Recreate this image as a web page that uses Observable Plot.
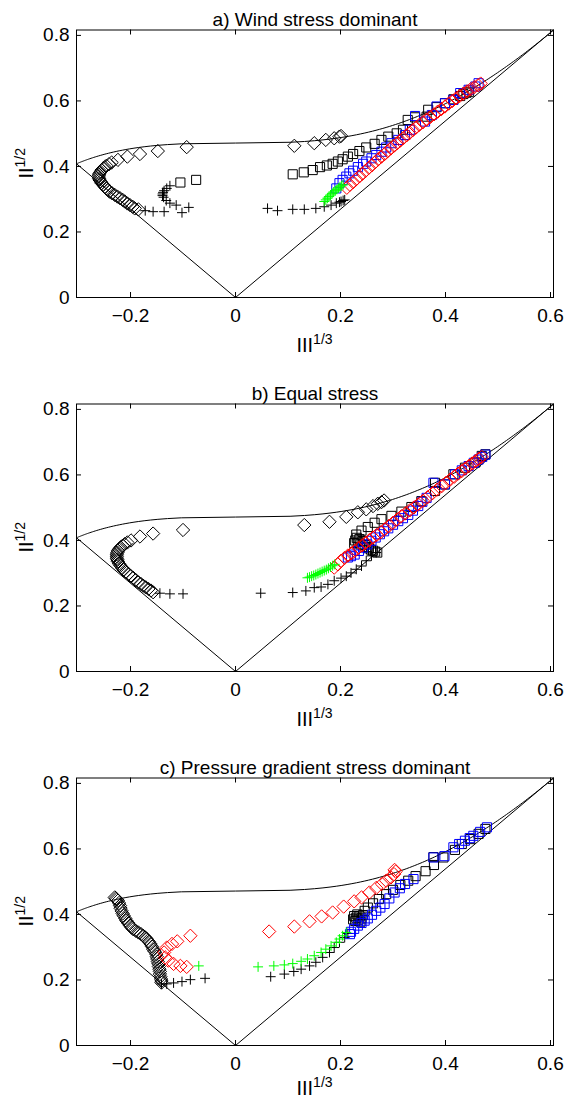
<!DOCTYPE html>
<html><head><meta charset="utf-8">
<script src="https://cdn.jsdelivr.net/npm/d3@7"></script>
<script src="https://cdn.jsdelivr.net/npm/@observablehq/plot@0.6"></script>
<style>
html,body{margin:0;padding:0;background:#fff;overflow:hidden;}
#chart{width:566px;}
#chart svg{display:block;}
</style></head><body><div id="chart"></div>
<script>
// ---- axis ticks ----
const xTicks = [-0.2, 0, 0.2, 0.4, 0.6];
const yTicks = [0, 0.2, 0.4, 0.6, 0.8];
const titles = ["a) Wind stress dominant", "b) Equal stress", "c) Pressure gradient stress dominant"];

// ---- Lumley triangle vertices (III^{1/3}, II^{1/2}) ----
const vertexLeft = [-0.3029, 0.4082];   // 2C axisymmetric
const vertexOrigin = [0, 0];             // isotropic
const vertexRight = [0.6057, 0.8165];   // 1C

// ---- Panel a: wind stress dominant ----
const aBlackDiamond = [[0.201,0.493],[0.198,0.491],[0.188,0.486],[0.172,0.481],[0.150,0.471],[0.112,0.463],
 [-0.093,0.459],[-0.148,0.447],[-0.182,0.438],[-0.206,0.430],[-0.224,0.420],[-0.236,0.412],[-0.241,0.407],[-0.246,0.402],[-0.249,0.398],[-0.252,0.394],[-0.255,0.389],[-0.257,0.384],[-0.259,0.379],[-0.260,0.374],[-0.261,0.369],[-0.260,0.364],[-0.259,0.359],[-0.257,0.354],[-0.255,0.349],[-0.252,0.344],[-0.249,0.338],[-0.246,0.333],[-0.243,0.328],[-0.240,0.323],[-0.235,0.318],[-0.230,0.313],[-0.225,0.308],[-0.220,0.303],[-0.215,0.298],[-0.211,0.293],[-0.206,0.287],[-0.201,0.282],[-0.196,0.277],[-0.192,0.272],[-0.185,0.269]];
const aBlackSquare = [[-0.105,0.351],[-0.075,0.359],
 [0.109,0.376],[0.130,0.382],[0.147,0.389],[0.161,0.398],[0.174,0.403],[0.185,0.408],[0.195,0.415],[0.204,0.422],[0.214,0.430],[0.224,0.438],[0.236,0.447],[0.249,0.458],[0.265,0.469],[0.278,0.481],[0.291,0.491],[0.307,0.501],[0.319,0.512],[0.328,0.542],[0.342,0.550],[0.364,0.552],[0.367,0.573],[0.383,0.581],[0.399,0.593],[0.415,0.605],[0.428,0.615],[0.434,0.621],[0.440,0.625],[0.445,0.628]];
const aBlackPlus = [[0.061,0.272],[0.080,0.265],[0.109,0.269],[0.131,0.269],[0.153,0.272],[0.169,0.277],[0.182,0.282],[0.192,0.288],[0.198,0.291],[0.201,0.293],[0.205,0.296],[0.208,0.298],
 [-0.089,0.275],[-0.102,0.259],[-0.113,0.282],[-0.125,0.288],[-0.132,0.296],[-0.137,0.306],[-0.139,0.311],[-0.139,0.316],[-0.138,0.321],[-0.136,0.326],[-0.131,0.333],[-0.125,0.341],[-0.136,0.262],[-0.157,0.262],[-0.172,0.265]];
const aBlueSquare = [[0.192,0.333],[0.198,0.349],[0.204,0.359],[0.211,0.369],[0.217,0.379],[0.224,0.387],[0.233,0.398],[0.243,0.408],[0.249,0.415],[0.259,0.425],[0.268,0.435],[0.278,0.445],[0.287,0.458],[0.297,0.471],[0.310,0.481],[0.323,0.496],[0.332,0.512],[0.342,0.554],[0.361,0.537],[0.374,0.557],[0.383,0.583],[0.399,0.593],[0.415,0.603],[0.428,0.624],[0.444,0.634],[0.457,0.644],[0.463,0.654]];
const aRedDiamond = [[0.212,0.335],[0.218,0.344],[0.224,0.352],[0.230,0.361],[0.236,0.370],[0.242,0.378],[0.248,0.387],[0.254,0.396],[0.260,0.404],[0.266,0.413],[0.272,0.422],[0.278,0.430],[0.284,0.438],[0.290,0.447],[0.296,0.455],[0.302,0.463],[0.308,0.471],[0.314,0.479],[0.320,0.487],[0.326,0.495],[0.332,0.503],[0.338,0.511],[0.344,0.519],[0.350,0.527],[0.357,0.535],[0.364,0.543],[0.371,0.551],[0.378,0.559],[0.385,0.567],[0.392,0.575],[0.399,0.583],[0.406,0.592],[0.413,0.600],[0.420,0.608],[0.427,0.615],[0.434,0.622],[0.441,0.629],[0.448,0.636],[0.455,0.642],[0.462,0.648],[0.467,0.653]];
const aGreenPlus = [[0.169,0.293],[0.172,0.298],[0.175,0.303],[0.178,0.308],[0.181,0.313],[0.184,0.318],[0.187,0.322],[0.190,0.326],[0.193,0.330],[0.196,0.334],[0.199,0.338],[0.202,0.341],[0.205,0.344]];

// ---- Panel b: equal stress ----
const bBlackDiamond = [[-0.100,0.432],[-0.157,0.421],[-0.182,0.412],[-0.199,0.400],[-0.206,0.394],[-0.211,0.389],[-0.215,0.384],[-0.219,0.379],[-0.222,0.373],[-0.224,0.368],[-0.225,0.363],[-0.226,0.358],[-0.226,0.352],[-0.226,0.346],[-0.225,0.341],[-0.224,0.336],[-0.222,0.329],[-0.219,0.323],[-0.216,0.316],[-0.213,0.310],[-0.209,0.304],[-0.204,0.298],[-0.200,0.292],[-0.195,0.286],[-0.190,0.279],[-0.185,0.272],[-0.180,0.267],[-0.176,0.262],[-0.171,0.257],[-0.166,0.252],[-0.161,0.247],[-0.157,0.242],
 [0.131,0.447],[0.179,0.457],[0.211,0.472],[0.233,0.486],[0.249,0.495],[0.262,0.505],[0.271,0.512],[0.278,0.517],[0.283,0.522]];
const bBlackSquare = [[0.226,0.392],[0.228,0.400],[0.231,0.408],[0.233,0.396],[0.236,0.404],[0.238,0.388],[0.242,0.398],[0.246,0.386],[0.250,0.380],[0.254,0.376],[0.258,0.372],[0.262,0.369],[0.266,0.366],[0.270,0.363],
 [0.230,0.418],[0.240,0.430],[0.252,0.441],[0.265,0.454],[0.278,0.465],[0.297,0.475],[0.316,0.488],[0.335,0.502],[0.354,0.520],[0.380,0.551],[0.380,0.576],[0.399,0.571],[0.415,0.602],[0.437,0.622],[0.457,0.638],[0.469,0.658],[0.476,0.663]];
const bBlackPlus = [[-0.144,0.239],[-0.125,0.237],[-0.100,0.237],[0.048,0.239],[0.109,0.241],[0.134,0.246],[0.150,0.256],[0.163,0.258],[0.176,0.266],[0.188,0.277],[0.201,0.285],[0.211,0.291],[0.220,0.301],[0.230,0.312],[0.240,0.322],[0.249,0.338],[0.259,0.353],[0.268,0.363]];
const bBlueSquare = [[0.214,0.348],[0.220,0.352],[0.227,0.357],[0.235,0.368],[0.243,0.378],[0.251,0.388],[0.259,0.399],[0.267,0.409],[0.275,0.419],[0.283,0.428],[0.291,0.437],[0.300,0.448],[0.310,0.459],[0.319,0.468],[0.329,0.478],[0.338,0.491],[0.348,0.505],[0.356,0.518],[0.364,0.530],[0.377,0.576],[0.399,0.571],[0.418,0.602],[0.431,0.614],[0.444,0.627],[0.454,0.637],[0.463,0.647],[0.470,0.655],[0.476,0.662]];
const bRedDiamond = [[0.188,0.317],[0.195,0.327],[0.201,0.338],[0.208,0.347],[0.214,0.354],[0.221,0.361],[0.227,0.368],[0.234,0.377],[0.241,0.385],[0.248,0.393],[0.255,0.401],[0.262,0.409],[0.269,0.417],[0.277,0.425],[0.284,0.434],[0.292,0.444],[0.300,0.454],[0.308,0.464],[0.316,0.474],[0.324,0.483],[0.332,0.492],[0.340,0.501],[0.348,0.510],[0.357,0.521],[0.366,0.532],[0.375,0.544],[0.384,0.555],[0.393,0.566],[0.401,0.576],[0.409,0.586],[0.417,0.595],[0.424,0.604],[0.431,0.612],[0.438,0.620],[0.445,0.628],[0.451,0.635],[0.457,0.642],[0.463,0.649],[0.469,0.655]];
const bGreenPlus = [[0.137,0.286],[0.141,0.288],[0.145,0.291],[0.149,0.293],[0.153,0.296],[0.157,0.299],[0.161,0.302],[0.165,0.305],[0.169,0.308],[0.173,0.311],[0.177,0.315],[0.181,0.319],[0.185,0.323],[0.189,0.327]];

// ---- Panel c: pressure gradient stress dominant ----
const cBlackDiamond = [[-0.230,0.452],[-0.228,0.449],[-0.226,0.446],[-0.224,0.442],[-0.222,0.435],[-0.220,0.427],[-0.219,0.419],[-0.217,0.411],[-0.215,0.403],[-0.213,0.396],[-0.210,0.388],[-0.208,0.381],[-0.204,0.373],[-0.201,0.366],[-0.198,0.360],[-0.195,0.355],[-0.190,0.350],[-0.185,0.345],[-0.180,0.340],[-0.176,0.335],[-0.172,0.330],[-0.169,0.325],[-0.165,0.317],[-0.162,0.310],[-0.159,0.302],[-0.157,0.294],[-0.154,0.287],[-0.151,0.279],[-0.150,0.271],[-0.149,0.264],[-0.148,0.256],[-0.147,0.249],[-0.146,0.241],[-0.145,0.233],[-0.144,0.226],[-0.144,0.218],[-0.143,0.210],[-0.142,0.203],[-0.141,0.197],[-0.141,0.192]];
const cBlackSquare = [[0.224,0.385],[0.226,0.395],[0.228,0.380],[0.230,0.390],[0.232,0.400],[0.234,0.384],[0.236,0.394],[0.238,0.378],[0.240,0.388],[0.243,0.398],[0.246,0.411],[0.252,0.421],[0.262,0.434],[0.273,0.447],[0.287,0.462],[0.300,0.475],[0.314,0.490],[0.329,0.503],[0.343,0.517],[0.362,0.532],[0.378,0.551],[0.377,0.575],[0.396,0.574],[0.418,0.597],[0.431,0.615],[0.447,0.630],[0.463,0.646],[0.476,0.661]];
const cBlackPlus = [[-0.141,0.188],[-0.131,0.188],[-0.118,0.191],[-0.102,0.195],[-0.086,0.201],[-0.058,0.205],
 [0.067,0.210],[0.093,0.218],[0.111,0.226],[0.125,0.233],[0.141,0.243],[0.153,0.254],[0.166,0.269],[0.179,0.284],[0.188,0.299],[0.198,0.315],[0.208,0.330],[0.214,0.342]];
const cBlueSquare = [[0.218,0.340],[0.220,0.347],[0.226,0.356],[0.233,0.366],[0.240,0.374],[0.246,0.381],[0.252,0.388],[0.260,0.399],[0.268,0.411],[0.276,0.421],[0.284,0.432],[0.293,0.449],[0.303,0.467],[0.313,0.480],[0.323,0.493],[0.339,0.508],[0.377,0.574],[0.398,0.578],[0.415,0.605],[0.426,0.615],[0.437,0.625],[0.446,0.633],[0.453,0.640],[0.466,0.652],[0.479,0.666]];
const cRedDiamond = [[-0.086,0.335],[-0.111,0.318],[-0.121,0.310],[-0.131,0.299],[-0.136,0.284],[-0.134,0.269],[-0.128,0.259],[-0.118,0.249],[-0.105,0.243],[-0.093,0.240],
 [0.064,0.348],[0.112,0.363],[0.141,0.379],[0.164,0.394],[0.185,0.406],[0.206,0.424],[0.226,0.440],[0.240,0.452],[0.255,0.467],[0.268,0.481],[0.279,0.493],[0.287,0.503],[0.296,0.513],[0.302,0.523],[0.305,0.531],[0.303,0.536]];
const cGreenPlus = [[-0.070,0.243],[0.043,0.240],[0.073,0.243],[0.093,0.246],[0.109,0.250],[0.125,0.257],[0.137,0.264],[0.150,0.274],[0.163,0.284],[0.172,0.294],[0.182,0.304],[0.192,0.315],[0.198,0.325],[0.204,0.335],[0.211,0.345]];

const panelsData = [
  [aBlackDiamond, aBlackSquare, aBlackPlus, aBlueSquare, aRedDiamond, aGreenPlus],
  [bBlackDiamond, bBlackSquare, bBlackPlus, bBlueSquare, bRedDiamond, bGreenPlus],
  [cBlackDiamond, cBlackSquare, cBlackPlus, cBlueSquare, cRedDiamond, cGreenPlus]
];
const seriesColors = ["black","black","black","blue","red","#00ff00"];
const seriesSymbols = ["diamond2","square2","plus","square2","diamond2","plus"];
const symbolR = {diamond2: 6.0, square2: 5.8, plus: 3.3};

// Lumley triangle outline: 2C-limit curve (eigenvalues t, 1/3-t, -1/3) from left to right vertex, then straight edges
const boundary = [];
for (let i = 0; i <= 150; i++) {
  const t = 1/6 + (2/3 - 1/6) * i / 150;
  const l = [t, 1/3 - t, -1/3];
  const II = d3.sum(l, v => v*v), III = d3.sum(l, v => v*v*v);
  boundary.push([Math.cbrt(III), Math.sqrt(II)]);
}
boundary.push(vertexOrigin, vertexLeft);

const FONT = "'Liberation Sans', Arial, Helvetica, sans-serif";
const W = 566, mT = 29.5, mL = 76, mR = 13, frameBottom = 297;
const fw = W - mL - mR, fh = frameBottom - mT;
const heights = [374, 374, 353];
const xLabelY = [352, 352, 347];
const fmt = d => d === 0 ? "0" : d3.format(".1f")(d);

const root = document.getElementById("chart");
panelsData.forEach((series, p) => {
  const H = heights[p];
  const marks = [
    Plot.line(boundary, {x: d => d[0], y: d => d[1], stroke: "black", strokeWidth: 1}),
    ...series.map((s, k) => Plot.dot(s, {x: d => d[0], y: d => d[1], symbol: seriesSymbols[k], r: symbolR[seriesSymbols[k]], stroke: seriesColors[k], fill: "none", strokeWidth: 1})),
    Plot.frame({stroke: "black", strokeWidth: 1}),
    Plot.tickX(xTicks, {x: d => d, insetTop: fh - 5, stroke: "black"}),
    Plot.tickX(xTicks, {x: d => d, insetBottom: fh - 5, stroke: "black"}),
    Plot.tickY(yTicks, {y: d => d, insetRight: fw - 5, stroke: "black"}),
    Plot.tickY(yTicks, {y: d => d, insetLeft: fw - 5, stroke: "black"}),
    Plot.axisX({ticks: xTicks, tickSize: 0, tickPadding: 11, tickFormat: fmt, label: null}),
    Plot.axisY({ticks: yTicks, tickSize: 0, tickPadding: 7, tickFormat: fmt, label: null}),
    Plot.text([titles[p]], {text: d => d, frameAnchor: "top", dy: -18, fontSize: 19, fill: "black"})
  ];
  const svg = Plot.plot({
    width: W, height: H,
    marginTop: mT, marginBottom: H - frameBottom, marginLeft: mL, marginRight: mR,
    x: {domain: [vertexLeft[0], vertexRight[0]]},
    y: {domain: [0, vertexRight[1]]},
    style: {fontSize: "19px", fontFamily: FONT, color: "black", background: "white"},
    marks
  });
  const s = d3.select(svg);
  // y label II^{1/2}
  const yl = s.append("text").attr("transform", `translate(33,${(mT + frameBottom) / 2}) rotate(-90)`)
    .attr("text-anchor", "middle").attr("font-size", 20).attr("font-family", FONT).attr("fill", "black");
  yl.append("tspan").text("II");
  yl.append("tspan").attr("font-size", 14).attr("dy", -8).text("1/2");
  // x label III^{1/3}
  const xl = s.append("text").attr("x", mL + fw / 2).attr("y", xLabelY[p])
    .attr("text-anchor", "middle").attr("font-size", 20).attr("font-family", FONT).attr("fill", "black");
  xl.append("tspan").text("III");
  xl.append("tspan").attr("font-size", 14).attr("dy", -8).text("1/3");
  root.appendChild(svg);
});
</script></body></html>
